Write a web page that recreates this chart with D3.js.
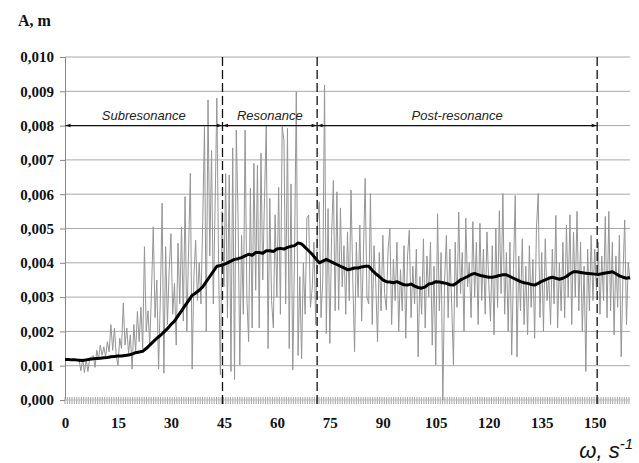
<!DOCTYPE html>
<html><head><meta charset="utf-8">
<script src="https://cdn.jsdelivr.net/npm/d3@7"></script>
<style>
html,body{margin:0;padding:0;background:#fff;}
svg{display:block;}
</style></head>
<body>
<script>
// ---- data (amplitude in units of 0.001 m) ----
const xTickValues = [0, 15, 30, 45, 60, 75, 90, 105, 120, 135, 150];
const yTickValues = [0, 1, 2, 3, 4, 5, 6, 7, 8, 9, 10];
const yTickLabels = ["0,000","0,001","0,002","0,003","0,004","0,005","0,006","0,007","0,008","0,009","0,010"];
const boundaries = [44.6, 71.4, 150.7];
const zones = [
  {name: "Subresonance", from: 0, to: 44.6},
  {name: "Resonance", from: 44.6, to: 71.4},
  {name: "Post-resonance", from: 71.4, to: 150.7}
];
const rawStep = 0.5; // omega step of the raw signal samples
const rawAmplitude = [
 1.18,1.19,1.18,1.17,1.18,1.16,1.17,1.15,1.16,0.85,
 1.2,0.8,1.18,0.83,1.22,1.25,1.3,0.95,1.45,1.2,
 1.6,1.3,1.55,1.25,1.7,1.4,2.2,1.45,2.1,1.3,
 1.0,1.8,1.5,2.83,1.6,2.1,1.35,1.9,0.9,2.2,
 1.4,2.58,1.7,2.7,1.5,4.47,2.0,2.6,1.6,3.2,
 5.05,2.4,3.5,0.9,3.0,5.74,0.78,4.47,2.2,3.8,
 4.85,2.5,3.4,1.6,4.57,2.8,5.05,2.3,5.93,2.0,
 4.4,6.61,0.9,3.6,4.66,2.9,4.0,2.8,5.2,7.97,
 2.0,8.75,4.2,7.27,2.8,5.6,8.8,3.9,0.73,5.5,
 3.3,6.6,2.4,6.56,0.83,7.35,0.6,7.87,5.39,1.02,
 4.8,2.5,7.87,3.0,1.7,6.17,2.1,6.9,3.2,6.85,
 2.1,7.2,3.5,5.9,8.02,1.5,5.88,2.9,2.1,5.4,
 3.0,6.2,2.5,7.97,7.58,2.8,7.92,1.5,6.3,0.88,
 4.2,8.99,1.3,3.6,1.2,4.0,2.5,5.3,5.39,2.7,
 3.25,4.6,2.2,5.2,5.78,2.4,3.5,9.18,1.94,5.58,
 1.65,4.8,6.4,2.6,6.07,2.62,5.6,3.3,4.5,2.5,
 4.9,2.9,6.12,3.5,1.41,4.6,3.0,5.1,2.3,4.2,
 6.46,3.0,2.8,6.02,2.2,4.5,3.4,1.7,4.3,2.6,
 4.8,3.1,2.62,4.4,5.0,2.2,4.1,2.9,4.6,2.0,
 3.8,2.6,4.5,1.8,4.2,4.95,2.4,3.9,2.8,4.4,
 1.26,3.6,2.5,4.7,2.1,4.2,3.0,4.6,1.6,3.9,
 1.02,5.43,2.6,4.3,0.0,3.5,4.8,2.4,4.4,2.8,
 1.02,4.6,2.7,5.48,3.1,4.3,2.0,5.3,3.3,4.0,
 2.4,5.2,3.0,4.6,2.2,5.15,2.9,4.4,2.5,4.9,
 3.4,2.3,4.5,1.9,5.0,2.7,5.52,3.1,6.02,2.5,
 4.3,2.0,4.6,1.31,3.8,5.96,1.26,4.2,2.6,4.7,
 2.2,3.9,1.9,4.5,2.7,4.1,1.8,5.0,6.02,2.4,
 4.3,2.0,4.7,2.9,3.6,2.2,4.4,2.8,5.38,2.1,
 4.0,2.6,4.6,2.4,5.1,3.0,5.4,2.2,4.9,3.0,
 5.5,2.6,4.6,2.0,3.9,0.83,4.4,2.6,4.8,2.9,
 4.4,3.2,4.6,2.5,4.2,2.9,5.35,2.4,5.5,2.6,
 4.6,1.9,4.2,2.7,4.8,1.26,3.6,5.25,2.2,4.0,
 3.5
];
const meanStep = 1; // omega step of the averaged curve
const meanAmplitude = [
 1.18,1.18,1.17,1.17,1.16,1.15,1.17,1.19,1.2,1.21,
 1.22,1.23,1.24,1.26,1.27,1.28,1.28,1.3,1.31,1.34,
 1.38,1.40,1.42,1.5,1.6,1.7,1.8,1.88,1.98,2.08,
 2.2,2.3,2.45,2.6,2.75,2.9,3.05,3.12,3.2,3.3,
 3.45,3.6,3.75,3.9,3.92,3.95,4.0,4.05,4.1,4.12,
 4.15,4.2,4.25,4.22,4.3,4.3,4.28,4.35,4.35,4.33,
 4.4,4.42,4.4,4.45,4.48,4.5,4.58,4.55,4.45,4.35,
 4.25,4.12,4.0,4.05,4.1,4.05,4.0,3.95,3.9,3.85,
 3.8,3.82,3.85,3.85,3.88,3.9,3.9,3.78,3.68,3.6,
 3.5,3.45,3.44,3.42,3.45,3.4,3.36,3.35,3.38,3.32,
 3.28,3.26,3.3,3.38,3.4,3.45,3.44,3.42,3.4,3.36,
 3.35,3.42,3.5,3.55,3.6,3.66,3.69,3.65,3.62,3.6,
 3.58,3.58,3.6,3.63,3.65,3.65,3.6,3.55,3.5,3.45,
 3.42,3.4,3.37,3.35,3.4,3.46,3.5,3.55,3.58,3.55,
 3.52,3.55,3.6,3.68,3.74,3.74,3.72,3.7,3.69,3.68,
 3.67,3.66,3.68,3.7,3.72,3.74,3.68,3.62,3.58,3.55,
 3.57
];

const W = 639, H = 463;
const svg = d3.select("body").append("svg").attr("width", W).attr("height", H);
const x = d3.scaleLinear().domain([0, 160]).range([65, 630]);
const y = d3.scaleLinear().domain([0, 10]).range([400, 57]);
const serif = "'Liberation Serif','Times New Roman',serif";
const sans = "'Liberation Sans',Arial,sans-serif";

// horizontal grid
svg.append("g").selectAll("line").data(yTickValues.filter(v => v > 0)).join("line")
  .attr("x1", x(0)).attr("x2", x(160))
  .attr("y1", d => y(d)).attr("y2", d => y(d))
  .attr("stroke", "#a8a8a8").attr("stroke-width", 1);

// y axis
const yAxis = d3.axisLeft(y).tickValues(yTickValues).tickSize(5)
  .tickFormat((d, i) => yTickLabels[i]);
const gy = svg.append("g").attr("transform", `translate(${x(0)},0)`).call(yAxis);
gy.select(".domain").attr("stroke", "#888");
gy.selectAll(".tick line").attr("stroke", "#888");
gy.selectAll("text").attr("font-family", serif).attr("font-weight", "bold")
  .attr("font-size", 15).attr("fill", "#111").attr("x", -11);

// x axis: dense minor ticks + labels
const minor = d3.range(0, 160.01, 0.66);
svg.append("g").selectAll("line").data(minor).join("line")
  .attr("x1", d => x(d)).attr("x2", d => x(d))
  .attr("y1", y(0) - 3).attr("y2", y(0) + 4)
  .attr("stroke", "#999").attr("stroke-width", 0.9);
svg.append("line").attr("x1", x(0)).attr("x2", x(160)).attr("y1", y(0)).attr("y2", y(0))
  .attr("stroke", "#bbb").attr("stroke-width", 1);
const xAxis = d3.axisBottom(x).tickValues(xTickValues).tickSize(0).tickFormat(d3.format("d"));
const gx = svg.append("g").attr("transform", `translate(0,${y(0) + 14})`).call(xAxis);
gx.select(".domain").remove();
gx.selectAll("text").attr("font-family", serif).attr("font-weight", "bold")
  .attr("font-size", 15).attr("fill", "#111");

// raw signal
const rawLine = d3.line().x((d, i) => x(i * rawStep)).y(d => y(d));
svg.append("path").datum(rawAmplitude).attr("d", rawLine)
  .attr("fill", "none").attr("stroke", "#959595").attr("stroke-width", 1);

// averaged curve
const meanLine = d3.line().x((d, i) => x(i * meanStep)).y(d => y(d));
svg.append("path").datum(meanAmplitude).attr("d", meanLine)
  .attr("fill", "none").attr("stroke", "#000").attr("stroke-width", 3)
  .attr("stroke-linejoin", "round");

// dashed boundaries
svg.append("g").selectAll("line").data(boundaries).join("line")
  .attr("x1", d => x(d)).attr("x2", d => x(d))
  .attr("y1", y(10)).attr("y2", y(0) + 4)
  .attr("stroke", "#111").attr("stroke-width", 1.3).attr("stroke-dasharray", "9,4");

// zone arrows
const defs = svg.append("defs");
defs.append("marker").attr("id", "ah").attr("viewBox", "0 0 10 10")
  .attr("refX", 10).attr("refY", 5).attr("markerWidth", 14).attr("markerHeight", 5)
  .attr("markerUnits", "userSpaceOnUse").attr("orient", "auto-start-reverse")
  .append("path").attr("d", "M0,1.5 L10,5 L0,8.5 Z").attr("fill", "#111");
const ay = y(8);
const gz = svg.append("g");
gz.selectAll("line").data(zones).join("line")
  .attr("x1", d => x(d.from) + 0.5).attr("x2", d => x(d.to) - 0.5)
  .attr("y1", ay).attr("y2", ay)
  .attr("stroke", "#111").attr("stroke-width", 1.2)
  .attr("marker-start", "url(#ah)").attr("marker-end", "url(#ah)");
gz.selectAll("text").data(zones).join("text")
  .attr("x", d => x((d.from + d.to) / 2)).attr("y", ay - 6)
  .attr("text-anchor", "middle").attr("font-family", sans).attr("font-style", "italic")
  .attr("font-size", 13).attr("fill", "#222").text(d => d.name);

// titles
svg.append("text").attr("x", 18).attr("y", 26).attr("font-family", serif)
  .attr("font-weight", "bold").attr("font-size", 16).attr("fill", "#111").text("A, m");
const xt = svg.append("text").attr("x", 633).attr("y", 458).attr("text-anchor", "end")
  .attr("font-family", sans).attr("font-style", "italic").attr("font-size", 22).attr("fill", "#111");
xt.append("tspan").text("ω, s");
xt.append("tspan").attr("dy", -9).attr("font-size", 15).text("-1");
</script>
</body></html>
